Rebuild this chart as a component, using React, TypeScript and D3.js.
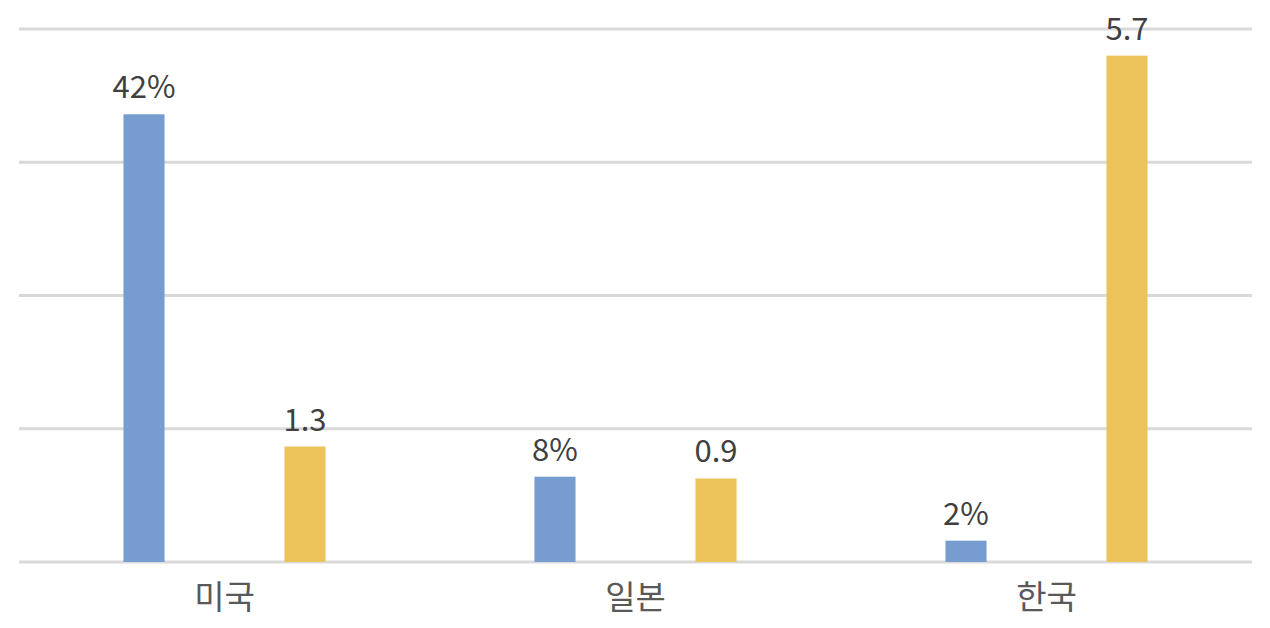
import * as d3 from 'd3'
import { useEffect, useRef } from 'react'

const categories = ['미국', '일본', '한국']
const seriesNames = ['share', 'ratio']
const shareValues = [42, 8, 2] // %
const ratioValues = [1.3, 0.94, 5.7]
const gridTicks = [0, 12.5, 25, 37.5, 50]

export default function App() {
  const ref = useRef<SVGSVGElement>(null)

  useEffect(() => {
    if (!ref.current) return

    const width = 1270
    const height = 628
    const left = 19
    const right = 1252
    const top = 29
    const bottom = 562

    const svg = d3.select(ref.current)
      .attr('width', width)
      .attr('height', height)
    svg.selectAll('*').remove()
    const g = svg.append('g')

    const x = d3.scaleBand().domain(categories).range([left, right]).padding(0)
    const xs = d3.scaleBand()
      .domain(seriesNames)
      .range([0, x.bandwidth()])
      .paddingInner(0.745)
      .paddingOuter(0.649)
    const yShare = d3.scaleLinear().domain([0, 50]).range([bottom, top])
    const yRatio = d3.scaleLinear().domain([0, 6]).range([bottom, top])

    // grid lines
    g.selectAll('line.grid').data(gridTicks).enter()
      .append('line')
      .attr('class', 'grid')
      .attr('x1', left)
      .attr('x2', right)
      .attr('y1', d => yShare(d))
      .attr('y2', d => yShare(d))
      .attr('stroke', '#d9d9d9')
      .attr('stroke-width', 3)

    const rows = categories.map((c, i) => ({ c, share: shareValues[i], ratio: ratioValues[i] }))

    // blue bars
    g.selectAll('rect.share').data(rows).enter()
      .append('rect')
      .attr('class', 'share')
      .attr('x', d => (x(d.c) as number) + (xs('share') as number))
      .attr('width', xs.bandwidth())
      .attr('y', d => yShare(d.share))
      .attr('height', d => bottom - yShare(d.share))
      .attr('fill', '#779ccf')

    // yellow bars
    g.selectAll('rect.ratio').data(rows).enter()
      .append('rect')
      .attr('class', 'ratio')
      .attr('x', d => (x(d.c) as number) + (xs('ratio') as number))
      .attr('width', xs.bandwidth())
      .attr('y', d => yRatio(d.ratio))
      .attr('height', d => bottom - yRatio(d.ratio))
      .attr('fill', '#ecc35b')

    const font = '"Noto Sans CJK KR", "Noto Sans", sans-serif'

    g.selectAll('text.share').data(rows).enter()
      .append('text')
      .attr('class', 'share')
      .attr('x', d => (x(d.c) as number) + (xs('share') as number) + xs.bandwidth() / 2)
      .attr('y', d => yShare(d.share) - 16)
      .attr('text-anchor', 'middle')
      .attr('font-family', font)
      .attr('font-size', 31)
      .attr('fill', '#404040')
      .text(d => `${d.share}%`)

    g.selectAll('text.ratio').data(rows).enter()
      .append('text')
      .attr('class', 'ratio')
      .attr('x', d => (x(d.c) as number) + (xs('ratio') as number) + xs.bandwidth() / 2)
      .attr('y', d => yRatio(d.ratio) - 16)
      .attr('text-anchor', 'middle')
      .attr('font-family', font)
      .attr('font-size', 31)
      .attr('fill', '#404040')
      .text(d => d3.format('.1f')(d.ratio))

    // category labels
    g.selectAll('text.cat').data(categories).enter()
      .append('text')
      .attr('class', 'cat')
      .attr('x', d => (x(d) as number) + x.bandwidth() / 2)
      .attr('y', 609)
      .attr('text-anchor', 'middle')
      .attr('font-family', font)
      .attr('font-size', 33)
      .attr('fill', '#595959')
      .text(d => d)
  }, [])

  return (
    <svg ref={ref} style={{ position: 'absolute', left: 0, top: 0, background: '#fff' }} />
  )
}
